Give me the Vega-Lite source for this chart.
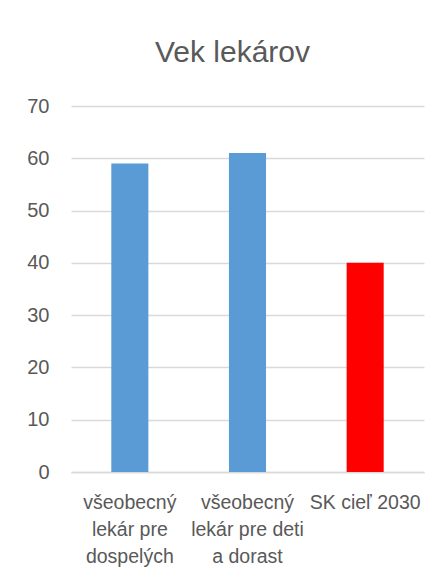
{
  "$schema": "https://vega.github.io/schema/vega-lite/v6.json",
  "autosize": {"type": "none"},
  "padding": {"left": 71, "top": 106, "right": 23, "bottom": 105},
  "width": 353,
  "height": 366,
  "background": "white",
  "config": {
    "view": {"stroke": null},
    "font": "Liberation Sans"
  },
  "title": {
    "text": "Vek lekárov",
    "fontSize": 30,
    "fontWeight": "normal",
    "color": "#595959",
    "font": "Liberation Sans",
    "anchor": "middle",
    "offset": 28,
    "dx": -15
  },
  "data": {
    "values": [
      {"kategoria": "všeobecný lekár pre dospelých", "vek": 59, "typ": "lekár"},
      {"kategoria": "všeobecný lekár pre deti a dorast", "vek": 61, "typ": "lekár"},
      {"kategoria": "SK cieľ 2030", "vek": 40, "typ": "cieľ"}
    ]
  },
  "mark": {"type": "bar"},
  "encoding": {
    "x": {
      "field": "kategoria",
      "type": "nominal",
      "sort": null,
      "scale": {"paddingInner": 0.685, "paddingOuter": 0.3425},
      "axis": {
        "title": null,
        "labelAngle": 0,
        "labelFontSize": 19.5,
        "labelColor": "#595959",
        "labelLineHeight": 27,
        "labelPadding": 21,
        "labelBaseline": "top",
        "labelLimit": 200,
        "ticks": false,
        "domainColor": "#d9d9d9",
        "domainWidth": 1.5,
        "labelExpr": "datum.value == 'všeobecný lekár pre dospelých' ? ['všeobecný', 'lekár pre', 'dospelých'] : datum.value == 'všeobecný lekár pre deti a dorast' ? ['všeobecný', 'lekár pre deti', 'a dorast'] : datum.value"
      }
    },
    "y": {
      "field": "vek",
      "type": "quantitative",
      "scale": {"domain": [0, 70]},
      "axis": {
        "title": null,
        "values": [0, 10, 20, 30, 40, 50, 60, 70],
        "labelFontSize": 20,
        "labelColor": "#595959",
        "labelPadding": 22,
        "ticks": false,
        "domain": false,
        "gridColor": "#d9d9d9",
        "gridWidth": 1.5
      }
    },
    "color": {
      "field": "typ",
      "type": "nominal",
      "scale": {"domain": ["lekár", "cieľ"], "range": ["#5B9BD5", "#FF0000"]},
      "legend": null
    }
  }
}
